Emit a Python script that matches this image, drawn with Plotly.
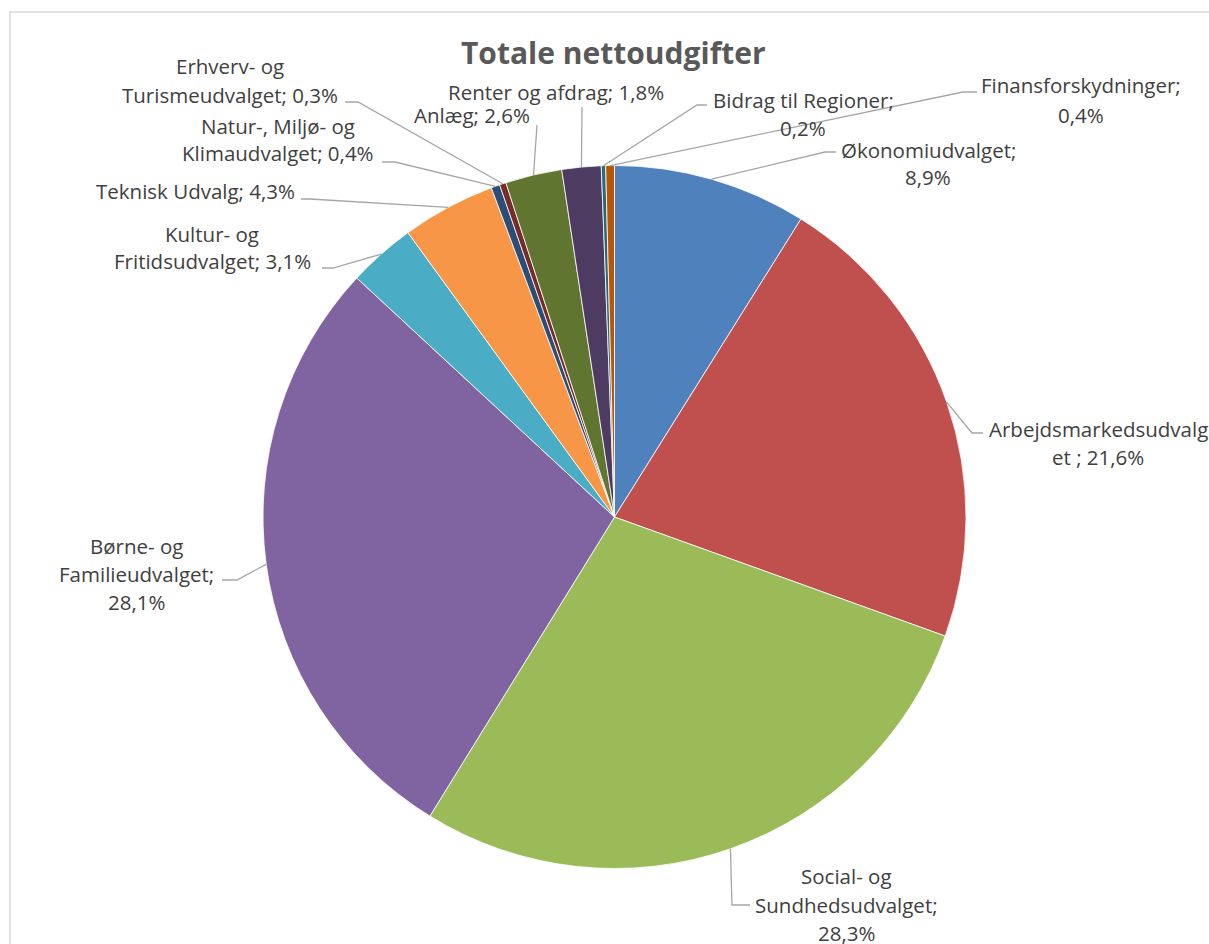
import math
import plotly.graph_objects as go

W, H = 1209, 944

# ---- data ----
categories = [
    "Økonomiudvalget", "Arbejdsmarkedsudvalget", "Social- og Sundhedsudvalget",
    "Børne- og Familieudvalget", "Kultur- og Fritidsudvalget", "Teknisk Udvalg",
    "Natur-, Miljø- og Klimaudvalget", "Erhverv- og Turismeudvalget", "Anlæg",
    "Renter og afdrag", "Bidrag til Regioner", "Finansforskydninger",
]
shares = [8.9, 21.6, 28.3, 28.1, 3.1, 4.3, 0.4, 0.3, 2.6, 1.8, 0.2, 0.4]
label_lines = [
    ["Økonomiudvalget;", "8,9%"],
    ["Arbejdsmarkedsudvalg", "et ; 21,6%"],
    ["Social- og", "Sundhedsudvalget;", "28,3%"],
    ["Børne- og", "Familieudvalget;", "28,1%"],
    ["Kultur- og", "Fritidsudvalget; 3,1%"],
    ["Teknisk Udvalg; 4,3%"],
    ["Natur-, Miljø- og", "Klimaudvalget; 0,4%"],
    ["Erhverv- og", "Turismeudvalget; 0,3%"],
    ["Anlæg; 2,6%"],
    ["Renter og afdrag; 1,8%"],
    ["Bidrag til Regioner;", "0,2%"],
    ["Finansforskydninger;", "0,4%"],
]
title_text = "Totale nettoudgifter"

# ---- styles / layout ----
colors = ["#4F81BD", "#C0504D", "#9BBB59", "#8064A2", "#4BACC6", "#F79646",
          "#2C4D75", "#772C2A", "#5F7530", "#4D3B62", "#276A7C", "#B65708"]

# pie geometry in pixels
CX, CY, R = 614.5, 517.0, 351.5

# label placement (pixels): text centre x, first baseline, line spacing, elbow, end
label_pos = [
    dict(cx=928, b=157, sp=27, elbow=(825, 152), end=(836, 152)),
    dict(cx=1098, b=436, sp=28, elbow=(972, 433), end=(983, 433)),
    dict(cx=846, b=883, sp=28.5, elbow=(732, 905), end=(750, 905)),
    dict(cx=136, b=553, sp=28, elbow=(237, 580), end=(222, 580)),
    dict(cx=212, b=241, sp=27, elbow=(333, 268), end=(322, 268)),
    dict(cx=195, b=198, sp=27, elbow=(310, 199), end=(301, 199)),
    dict(cx=278, b=133, sp=27, elbow=(395, 162), end=(382, 162)),
    dict(cx=230, b=73, sp=29, elbow=(358, 102), end=(345, 102)),
    dict(cx=472, b=122, sp=27, elbow=(537, 125), end=(537, 125)),
    dict(cx=556, b=99, sp=27, elbow=(582, 107), end=(582, 107)),
    dict(cx=803, b=107, sp=28, elbow=(697, 105), end=(707, 105)),
    dict(cx=1081, b=92, sp=30, elbow=(963, 92), end=(977, 92)),
]

FONT = "Open Sans"
FS = 20.5
TXT = "#404040"
LINE = "#A6A6A6"


def px(x):
    return x / W


def py(y):
    return 1 - y / H


fig = go.Figure(go.Pie(
    labels=categories,
    values=shares,
    sort=False,
    direction="clockwise",
    rotation=0,
    marker=dict(colors=colors, line=dict(color="white", width=0.8)),
    textinfo="none",
    hoverinfo="label+percent",
    domain=dict(x=[px(CX - R), px(CX + R)], y=[py(CY + R), py(CY - R)]),
    showlegend=False,
))

annotations = []
shapes = []
total = sum(shares)
cum = 0.0
for val, lines, pos in zip(shares, label_lines, label_pos):
    mid = (cum + val / 2) / total * 2 * math.pi
    cum += val
    sx = CX + R * math.sin(mid)
    sy = CY - R * math.cos(mid)
    ex, ey = pos["elbow"]
    tx, ty = pos["end"]
    path = f"M {px(sx)},{py(sy)} L {px(ex)},{py(ey)} L {px(tx)},{py(ty)}"
    shapes.append(dict(type="path", xref="paper", yref="paper", path=path,
                       line=dict(color=LINE, width=1.3)))
    for i, t in enumerate(lines):
        base = pos["b"] + i * pos["sp"]
        annotations.append(dict(
            text=t, x=px(pos["cx"]), y=py(base - 7), xref="paper", yref="paper",
            xanchor="center", yanchor="middle", showarrow=False,
            font=dict(family=FONT, size=FS, color=TXT),
        ))

annotations.append(dict(
    text=f"<b>{title_text}</b>", x=px(613.5), y=py(63 - 10.5), xref="paper", yref="paper",
    xanchor="center", yanchor="middle", showarrow=False,
    font=dict(family=FONT, size=30, color="#595959"),
))

# chart-area border
shapes.append(dict(type="rect", xref="paper", yref="paper",
                   x0=px(10), x1=px(1220), y0=py(960), y1=py(12),
                   line=dict(color="#D9D9D9", width=1.5), layer="below"))

fig.update_layout(
    width=W, height=H,
    margin=dict(l=0, r=0, t=0, b=0),
    paper_bgcolor="white",
    plot_bgcolor="white",
    annotations=annotations,
    shapes=shapes,
)

fig.write_html("out.html", config={"displayModeBar": False},
               post_script="document.body.style.margin='0';")
